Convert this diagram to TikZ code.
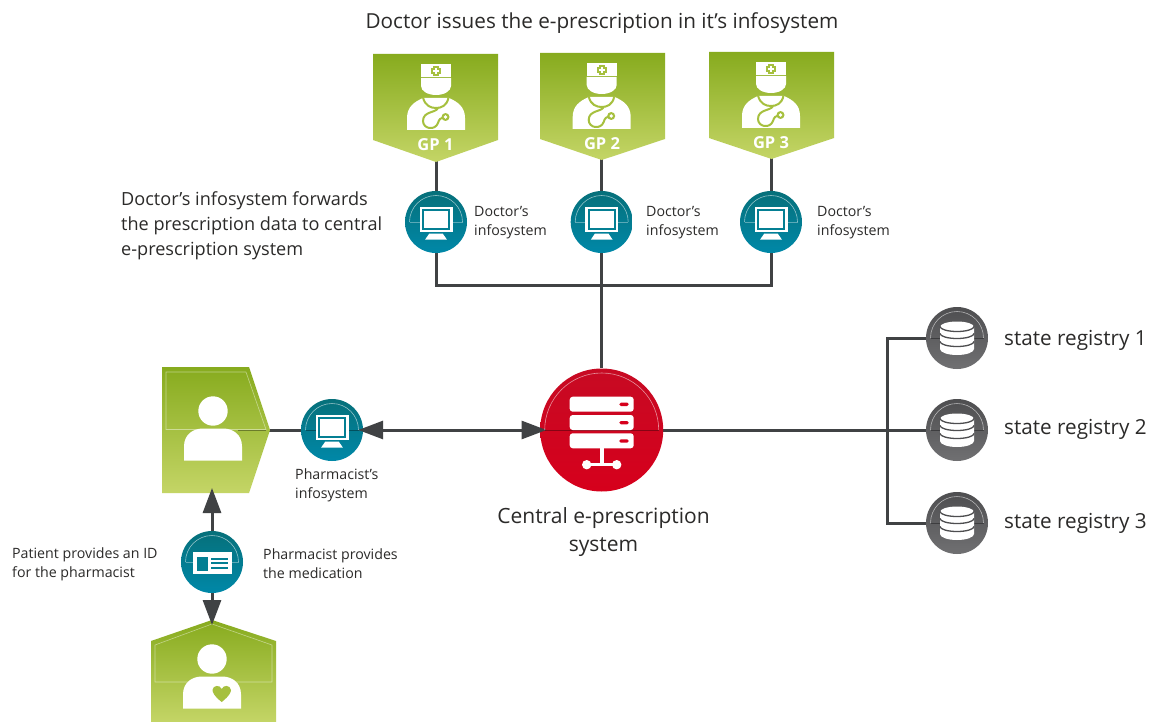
\documentclass[tikz,border=0pt]{standalone}
\usepackage{fontspec}
\setmainfont{Open Sans}
\usetikzlibrary{arrows.meta,backgrounds,calc}
\definecolor{ink}{HTML}{404244}
\definecolor{txt}{HTML}{2B2A29}
\definecolor{grA}{HTML}{87AB1E}
\definecolor{grB}{HTML}{C4D566}
\definecolor{grC}{HTML}{A6C03E}
\definecolor{tlA}{HTML}{06707A}
\definecolor{tlB}{HTML}{0088A8}
\definecolor{tlC}{HTML}{047F93}
\definecolor{rdA}{HTML}{C70A23}
\definecolor{rdB}{HTML}{D6001C}
\definecolor{gyA}{HTML}{4E4E50}
\definecolor{gyB}{HTML}{707072}
\tikzset{
  x=1pt,y=-1pt,
  link/.style={draw=ink,line width=3pt},
  tip/.style={-{Triangle[length=25pt,width=18pt,fill=ink]}},
  tipboth/.style={{Triangle[length=25pt,width=18pt,fill=ink]}-{Triangle[length=25pt,width=18pt,fill=ink]}},
  teal/.style={circle,minimum size=62pt,inner sep=0pt,top color=tlA,bottom color=tlB,draw=none},
  grey/.style={circle,minimum size=62pt,inner sep=0pt,top color=gyA,bottom color=gyB,draw=none},
  red/.style={circle,minimum size=123pt,inner sep=0pt,top color=rdA,bottom color=rdB,draw=none},
  greenpanel/.style={top color=grA,bottom color=grB,draw=none},
  panelline/.style={white,opacity=.45,line width=.6pt},
  lab/.style={font=\fontsize{14.2}{19.3}\selectfont,text=txt,align=left,inner sep=0pt},
  biglab/.style={font=\fontsize{20.7}{28}\selectfont,text=txt,inner sep=0pt},
  midlab/.style={font=\fontsize{18.1}{25}\selectfont,text=txt,align=left,inner sep=0pt},
  gplab/.style={font=\bfseries\fontsize{16.5}{20}\selectfont,text=white,inner sep=0pt},
}
% decoration inside a circular node: thin arc and chord
\newcommand{\arcdeco}[3]{%
  \draw[white,opacity=.55,line width=.6pt] ($(#1)+(-#2,0)$) arc[start angle=180,end angle=360,radius=#2];
  \draw[#3,opacity=.35,line width=.6pt] ($(#1)+(-#2,0)$) -- ($(#1)+(#2,0)$);
}
% monitor icon centred on a node
\newcommand{\monitor}[1]{%
  \begin{scope}[shift={(#1)}]
    \fill[white] (-16.5,-15.5) rectangle (16.5,10);
    \fill[tlC] (-14,-12.7) rectangle (14,7.7);
    \fill[white] (-12,-10.7) rectangle (12,5.7);
    \fill[white] (-6.7,11.5) -- (6.7,11.5) -- (10.8,17.5) -- (-10.8,17.5) -- cycle;
  \end{scope}}
% database icon centred on a node
\newcommand{\dbicon}[1]{%
  \begin{scope}[shift={(#1)}]
    \fill[white] (-17,-11) arc[x radius=17,y radius=5.5,start angle=180,end angle=360]
      -- (17,11) arc[x radius=17,y radius=6,start angle=0,end angle=180] -- cycle;
    \foreach \yy in {-11.5,-4.5,3.5}{
      \draw[gyA,line width=1.3pt] (-17,\yy) arc[x radius=17,y radius=5,start angle=180,end angle=0];
    }
  \end{scope}}
% doctor icon, origin at the neck
\newcommand{\doctor}[1]{%
  \begin{scope}[shift={(#1)}]
    \fill[white] (-15,-36) rectangle (15,-23);
    \fill[white] (-15,-22) -- (15,-22) -- (15,-14) arc[x radius=15,y radius=9,start angle=0,end angle=180] -- cycle;
    \fill[white] (-29,30) -- (-29,18) .. controls (-29,7) and (-22,2) .. (-13,-2)
      -- (13,-2) .. controls (22,2) and (29,7) .. (29,18) -- (29,30) -- cycle;
    \draw[grC,line width=2pt] (-13,-2.5) .. controls (-11,6) and (-5,8) .. (0,8)
      .. controls (5,8) and (11,6) .. (12.5,-2.5);
    \draw[grC,line width=2pt] (2,8) .. controls (0,13) and (-13,11) .. (-13,21)
      .. controls (-13,29) and (-1,31) .. (2,23) .. controls (3,19) and (5,18) .. (7,17.5);
    \fill[grC] (9.5,17) circle (4);
    \fill[white] (9.5,17) circle (1.9);
    \fill[grC] (-2.8,-34) rectangle (2.8,-24.4);
    \fill[grC] (-4.8,-32) rectangle (4.8,-26.4);
    \fill[white] (-1.2,-32.2) rectangle (1.2,-26.2);
    \fill[white] (-3,-30.4) rectangle (3,-28);
  \end{scope}}
% plain person icon
\newcommand{\person}[1]{%
  \begin{scope}[shift={(#1)}]
    \fill[white] (0,-15.5) circle (14.7);
    \fill[white] (-29,34) -- (-29,20) .. controls (-29,8) and (-20,2) .. (-10,2)
      -- (10,2) .. controls (20,2) and (29,8) .. (29,20) -- (29,34) -- cycle;
  \end{scope}}
\begin{document}
\begin{tikzpicture}
\useasboundingbox (0,0) rectangle (1153,722);
\begin{scope}[on background layer]
\fill[white] (0,0) rectangle (1153,722);
\end{scope}

% panels
\shade[greenpanel] (373,54) -- (498,54) -- (498,140) -- (436,162) -- (373,140) -- cycle;
\shade[greenpanel] (540,53) -- (665,53) -- (665,139) -- (601.7,160) -- (540,139) -- cycle;
\shade[greenpanel] (709,52) -- (834,52) -- (834,138) -- (771.5,159) -- (709,138) -- cycle;
\coordinate (gp1) at (436,161);
\coordinate (gp2) at (601.7,159);
\coordinate (gp3) at (771,158);

\shade[greenpanel] (162,367) -- (249,367) -- (270,430) -- (249,493) -- (162,493) -- cycle;
\draw[panelline] (166,372) -- (246,372) -- (266,429.5) -- (166,429.5) -- cycle;
\draw[black,opacity=.35,line width=.6pt] (238,429.8) -- (266,429.8);
\coordinate (phpanel) at (269,430);
\coordinate (phpanelb) at (212,493);

\shade[greenpanel] (151,641) -- (212,620) -- (276,641) -- (276,722) -- (151,722) -- cycle;
\draw[panelline] (155,682) -- (155,645) -- (212,624) -- (272,645) -- (272,682) -- cycle;
\coordinate (patient) at (212,620);

% circular nodes
\node[teal] (is1) at (436,222) {};
\node[teal] (is2) at (601.7,222) {};
\node[teal] (is3) at (771,222) {};
\node[teal] (ph) at (332,430) {};
\node[teal] (idc) at (212,562) {};
\node[red] (central) at (601.7,430) {};
\node[grey] (r1) at (957,338) {};
\node[grey] (r2) at (957,430) {};
\node[grey] (r3) at (957,523) {};
\coordinate (bus) at (601.7,285);

% connectors
\begin{scope}[on background layer]
\draw[link] (gp1) -- (is1);
\draw[link] (gp2) -- (is2);
\draw[link] (gp3) -- (is3);
\draw[link] (is1) |- (bus);
\draw[link] (is3) |- (bus);
\draw[link] (is2) -- (central);
\draw[link] (phpanel) -- (ph);
\draw[link] (central) -- (r2);
\draw[link] (r1.west) -- ++(-38,0) coordinate (bt) -- (bt |- r3) -- (r3.west);
\end{scope}
\draw[link,tipboth,shorten <=-5pt,shorten >=-6.5pt] (ph.east) -- (central.west);
\draw[link,tip,shorten >=-5pt] (idc.north) -- (phpanelb);
\draw[link,tip,shorten >=-5pt] (idc.south) -- (patient);

% decorations
\foreach \n in {is1,is2,is3,idc}{\arcdeco{\n}{26.5}{white}}
\arcdeco{ph}{26.5}{black}
\foreach \n in {r1,r2,r3}{\arcdeco{\n}{26.5}{black}}
\arcdeco{central}{57}{black}

\monitor{is1}\monitor{is2}\monitor{is3}\monitor{ph}
\dbicon{r1}\dbicon{r2}\dbicon{r3}

% id card
\begin{scope}[shift={(idc)}]
  \fill[white] (-19,-10) rectangle (20,12);
  \fill[tlC] (-15,-5) rectangle (-4,9);
  \fill[tlC] (-1,-3.7) rectangle (16,-1.7);
  \fill[tlC] (-1,0.3) rectangle (16,2.3);
  \fill[tlC] (-1,4.7) rectangle (16,6.7);
\end{scope}

% server
\begin{scope}[shift={(central)}]
  \foreach \yy in {-33.3,-15,3.3}{
    \fill[white,rounded corners=3pt] (-32,\yy) rectangle (32,\yy+15);
    \fill[rdB,rounded corners=1.5pt] (17.6,\yy+6) rectangle (27,\yy+9.3);
  }
  \fill[white] (-2,18) rectangle (2,34);
  \fill[white] (-15,33) rectangle (15,36);
  \fill[white] (-15,34.7) circle (4.7);
  \fill[white] (15,34.7) circle (4.7);
\end{scope}

\doctor{436,100}\doctor{601.7,99}\doctor{771,98}
\person{213,426.5}
\person{212,674.5}
\fill[grC] (221.7,702) .. controls (214,696) and (212.5,692) .. (212.5,690)
  .. controls (213,685) and (220,684.5) .. (221.7,689)
  .. controls (223.4,684.5) and (230.4,685) .. (231,690) .. controls (231,692) and (229.4,696) .. (221.7,702) -- cycle;

% text
\node[biglab,anchor=base] (t0) at (602,29) {Doctor issues the e-prescription in it’s infosystem};
\node[gplab] (g1) at (435.5,145) {GP 1};
\node[gplab] (g2) at (602,144) {GP 2};
\node[gplab] (g3) at (771,143) {GP 3};
\node[midlab,anchor=north west] (t1) at (121,191) {Doctor’s infosystem forwards\\the prescription data to central\\e-prescription system};
\node[lab,anchor=west] (d1) at (474,222.5) {Doctor’s\\infosystem};
\node[lab,anchor=west] (d2) at (646,222.5) {Doctor’s\\infosystem};
\node[lab,anchor=west] (d3) at (817,222.5) {Doctor’s\\infosystem};
\node[lab,anchor=north west] (p1) at (295,468.5) {Pharmacist’s\\infosystem};
\node[lab,anchor=west] (p2) at (12,564) {Patient provides an ID\\for the pharmacist};
\node[lab,anchor=west] (p3) at (263,564) {Pharmacist provides\\the medication};
\node[biglab,align=center,font=\fontsize{21}{28}\selectfont] (c) at (603.5,532) {Central e-prescription\\system};
\node[biglab,anchor=west] (s1) at (1004,340) {state registry 1};
\node[biglab,anchor=west] (s2) at (1004,429) {state registry 2};
\node[biglab,anchor=west] (s3) at (1004,523) {state registry 3};
\end{tikzpicture}
\end{document}
